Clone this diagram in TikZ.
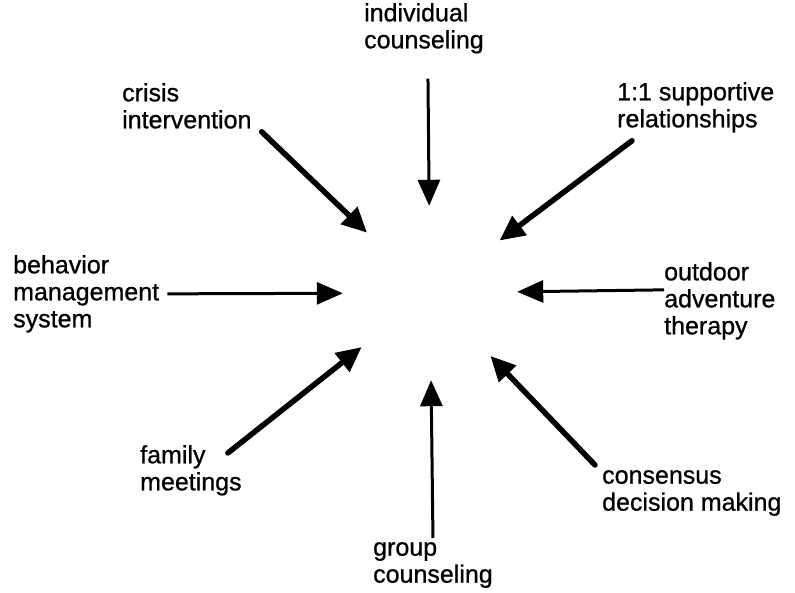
\documentclass[tikz,border=0pt]{standalone}
\usepackage{fontspec}
\setmainfont{Liberation Sans}[FakeBold=0.8]
\usetikzlibrary{arrows.meta}

\begin{document}
\begin{tikzpicture}[
  x=1pt, y=-1pt,
  font=\fontsize{25}{27}\selectfont,
  lbl/.style={anchor=north west, align=left, inner sep=0pt},
  arr/.style={-{Triangle[length=26pt,width=22pt]}, line width=3pt},
  arrbold/.style={-{Triangle[length=25pt,width=23pt]}, line width=5.5pt, line cap=round}
]
\useasboundingbox (0,0) rectangle (795,593);
\node[circle, minimum size=174pt, inner sep=0pt] (hub) at (430,293) {};

\node[lbl] (ind) at (364,3) {individual\\counseling};
\node[lbl] (cri) at (122,83) {crisis\\intervention};
\node[lbl] (sup) at (617,82) {1:1 supportive\\relationships};
\node[lbl] (beh) at (13,255) {behavior\\management\\system};
\node[lbl] (out) at (664,262) {outdoor\\adventure\\therapy};
\node[lbl] (fam) at (140,445) {family\\meetings};
\node[lbl] (con) at (602,470) {consensus\\decision making};
\node[lbl] (grp) at (373,542) {group\\counseling};

\draw[arr] ([xshift=4pt,yshift=-25pt]ind.south) -- (hub);
\draw[arrbold] ([xshift=10pt,yshift=-3pt]cri.south east) -- (hub);
\draw[arrbold] ([xshift=15pt,yshift=-8pt]sup.south west) -- (hub);
\draw[arr] ([xshift=8pt]beh.east) -- (hub);
\draw[arr] ([yshift=11pt]out.west) -- (hub);
\draw[arrbold] ([xshift=-14pt,yshift=-8pt]fam.north east) -- (hub);
\draw[arrbold] ([xshift=-7pt,yshift=5pt]con.north west) -- (hub);
\draw[arr] ([yshift=4pt]grp.north) -- (hub);
\end{tikzpicture}
\end{document}
